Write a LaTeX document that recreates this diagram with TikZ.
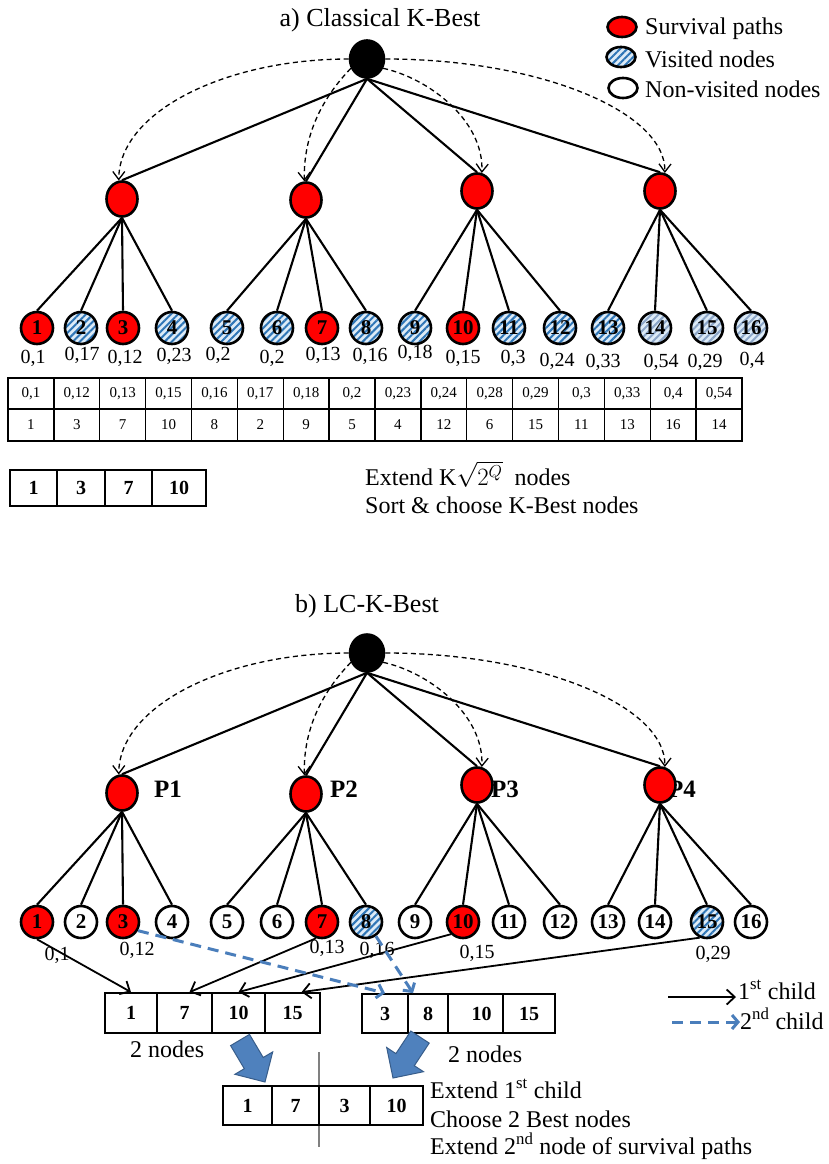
\documentclass[tikz,border=0pt]{standalone}
\usepackage{fontspec}
\setmainfont{Liberation Serif}
\usetikzlibrary{arrows.meta,patterns.meta,shapes.geometric,calc}
\definecolor{hatchblue}{HTML}{2E75B6}
\definecolor{hatchlight}{HTML}{8CA6C8}
\definecolor{hatchbg}{HTML}{DDEBF7}
\definecolor{arrowblue}{HTML}{4A7EBB}
\definecolor{blockblue}{HTML}{4F81BD}
\definecolor{blockedge}{HTML}{385D8A}
\newcommand\mktree[2]{%
\begin{scope}[shift={(0,#2)}]
 \node[rootnode] (#1r) at (367,59) {};
 \node[lvone] (#1p1) at (122,199) {};
 \node[lvone] (#1p2) at (306,200) {};
 \node[lvone] (#1p3) at (477,191) {};
 \node[lvone] (#1p4) at (660,191) {};
 \foreach \i in {1,...,4}{\draw[tedge] (#1r.south) -- (#1p\i.north);}
 \draw[darc] (#1r.west) .. controls (225,59) and (119,112) .. (#1p1.100);
 \draw[darc] (#1r.210) .. controls (332,88) and (303,125) .. (#1p2.95);
 \draw[darc] (#1r.-30) .. controls (428,78) and (484,120) .. (#1p3.75);
 \draw[darc] (#1r.east) .. controls (540,59) and (666,112) .. (#1p4.75);
\end{scope}}
\newcommand\mkleaves[3]{%
 \foreach \x/\s [count=\n] in {#3}{\node[style=\s] (#1l\n) at (\x,#2) {\n};}
 \foreach \n in {1,...,16}{\pgfmathtruncatemacro\pp{(\n+3)/4}\draw[tedge] (#1p\pp.south) -- (#1l\n.north);}
}
\begin{document}
\begin{tikzpicture}[x=1pt,y=-1pt,
  every node/.style={inner sep=0pt},
  f/.style={font=\fontsize{#1}{#1}\selectfont},
  fb/.style={font=\fontsize{#1}{#1}\selectfont\bfseries},
  rootnode/.style={ellipse,draw,line width=2.6pt,fill=black,minimum width=34pt,minimum height=37pt},
  lvone/.style={ellipse,draw,line width=2.6pt,fill=red,minimum width=31pt,minimum height=35pt},
  leaf/.style={circle,draw,line width=2.6pt,minimum size=32pt,fb=21},
  hatch/.style={preaction={fill=hatchbg},pattern={Lines[angle=45,distance=5pt,line width=2pt]},pattern color=hatchblue},
  survive/.style={leaf,fill=red},
  visited/.style={leaf,hatch},
  visitedl/.style={leaf,hatch,pattern color=hatchlight},
  nonvisited/.style={leaf,fill=white},
  legmark/.style={ellipse,draw,line width=2.6pt,minimum width=29pt,minimum height=20pt},
  tedge/.style={line width=2.1pt},
  darc/.style={line width=1.3pt,dash pattern=on 5pt off 3.5pt,-{Straight Barb[length=8pt,width=12pt]}},
  tcell/.style={draw,line width=1.3pt,minimum width=45.875pt,f=15},
  bcell/.style={draw,line width=1.8pt,fb=20},
  first/.style={line width=1.8pt,-{Straight Barb[length=8pt,width=15pt]}},
  second/.style={arrowblue,line width=3pt,dash pattern=on 11pt off 7pt,-{Straight Barb[length=6pt,width=14pt]}},
  val/.style={f=20},
  txt/.style={f=24,anchor=base west}
]
\useasboundingbox (0,0) rectangle (828,1164);
\fill[white] (0,0) rectangle (828,1164);

% ---------- titles ----------
\node[f=26,anchor=base] (ta) at (380,27) {a) Classical K-Best};
\node[f=26,anchor=base] (tb) at (367,612) {b) LC-K-Best};

% ---------- legend a ----------
\node[legmark,fill=red] (lgA) at (622,27) {};
\node[legmark,hatch] (lgB) at (621,57) {};
\node[legmark,fill=white] (lgC) at (623,88) {};
\node[txt] (lgAt) at (645,35) {Survival paths};
\node[txt] (lgBt) at (645,67) {Visited nodes};
\node[txt] (lgCt) at (645,97) {Non-visited nodes};

% ---------- tree a ----------
\mktree{a}{0}
\mkleaves{a}{328}{37/survive,81/visited,123/survive,172/visited,227/visited,277/visited,322/survive,366/visited,415/visited,463/survive,509/visited,560/visited,608/visited,655/visitedl,707/visitedl,751/visitedl}

\foreach \x/\y/\t [count=\k] in {33/358/{0,1},82/355/{0,17},125/358/{0,12},174/356/{0,23},218/355/{0,2},272/358/{0,2},323/355/{0,13},370/356/{0,16},415/353/{0,18},463/358/{0,15},513/358/{0,3},557/361/{0,24},603/362/{0,33},661/362/{0,54},705/362/{0,29},752/360/{0,4}}
  {\node[val] (av\k) at (\x,\y) {\t};}

% ---------- table ----------
\foreach \t [count=\k] in {{0,1},{0,12},{0,13},{0,15},{0,16},{0,17},{0,18},{0,2},{0,23},{0,24},{0,28},{0,29},{0,3},{0,33},{0,4},{0,54}}
  {\node[tcell,minimum height=31pt] (tr\k) at ({8+45.875*(\k-0.5)},393.5) {\t};}
\foreach \t [count=\k] in {1,3,7,10,8,2,9,5,4,12,6,15,11,13,16,14}
  {\node[tcell,minimum height=32pt] (ts\k) at ({8+45.875*(\k-0.5)},425) {\t};}

% ---------- K-best box ----------
\node[bcell,minimum width=47pt,minimum height=36pt] (k1) at (33.5,488) {1};
\node[bcell,minimum width=48pt,minimum height=36pt] (k2) at (81,488) {3};
\node[bcell,minimum width=47pt,minimum height=36pt] (k3) at (128.5,488) {7};
\node[bcell,minimum width=54pt,minimum height=36pt] (k4) at (179,488) {10};
\node[txt] (ext) at (365,485) {Extend K$\sqrt{2^{Q}}$\ \ nodes};
\node[txt] (srt) at (365,513) {Sort \& choose K-Best nodes};

% ---------- tree b ----------
\node[fb=25,anchor=base west] (P1) at (154,797) {P1};
\node[fb=25,anchor=base west] (P2) at (330,797) {P2};
\node[fb=25,anchor=base west] (P3) at (491,797) {P3};
\node[fb=25,anchor=base west] (P4) at (668,797) {P4};
\mktree{b}{594}
\mkleaves{b}{922}{37/survive,81/nonvisited,123/survive,172/nonvisited,227/nonvisited,277/nonvisited,322/survive,366/visited,415/nonvisited,463/survive,509/nonvisited,560/nonvisited,608/nonvisited,655/nonvisited,707/visited,751/nonvisited}

\node[val] (bv1) at (57,955) {0,1};
\node[val] (bv3) at (137,950) {0,12};
\node[val] (bv7) at (327,948) {0,13};
\node[val] (bv8) at (377,950) {0,16};
\node[val] (bv10) at (477,953) {0,15};
\node[val] (bv15) at (713,954) {0,29};

% ---------- boxes b ----------
\node[bcell,minimum width=52pt,minimum height=40pt] (b1c1) at (131,1013) {1};
\node[bcell,minimum width=55pt,minimum height=40pt] (b1c2) at (184.5,1013) {7};
\node[bcell,minimum width=53pt,minimum height=40pt] (b1c3) at (238.5,1013) {10};
\node[bcell,minimum width=55pt,minimum height=40pt] (b1c4) at (292.5,1013) {15};

\node[bcell,minimum width=46pt,minimum height=39pt] (b2c1) at (385,1013.5) {3};
\node[bcell,minimum width=40pt,minimum height=39pt] (b2c2) at (428,1013.5) {8};
\node[bcell,minimum width=55pt,minimum height=39pt] (b2c3) at (475.5,1013.5) {\hspace*{12pt}10};
\node[bcell,minimum width=52pt,minimum height=39pt] (b2c4) at (529,1013.5) {15};

% arrows 1st / 2nd child
\draw[first] (bl1.south) -- (b1c1.north);
\draw[first] (bl7.250) -- ([xshift=5pt]b1c2.north);
\draw[first] (bl10.225) -- (b1c3.north);
\draw[first] (bl15.245) -- ([xshift=9pt]b1c4.north);
\draw[second] (bl3.-30) -- (b2c1.north);
\draw[second] (bl8.-55) -- ([xshift=-15pt]b2c2.north);

% legend b
\coordinate (lg1s) at (668,997);
\coordinate (lg1e) at (736,997);
\draw[first] (lg1s) -- (lg1e);
\node[txt] (lg1t) at (738,999) {1\textsuperscript{st} child};
\coordinate (lg2s) at (672,1022);
\coordinate (lg2e) at (740,1022);
\draw[second] (lg2s) -- (lg2e);
\node[txt] (lg2t) at (740,1029) {2\textsuperscript{nd} child};

\node[f=24,anchor=base west] (n2a) at (130,1057) {2 nodes};
\node[f=24,anchor=base west] (n2b) at (448,1062) {2 nodes};

% big block arrows
\filldraw[fill=blockblue,draw=blockedge,line width=1pt]
  (230.6,1045.6) -- (244.3,1068.7) -- (234.9,1074.3) -- (265,1082) -- (272.7,1051.9) -- (263.2,1057.5) -- (249.5,1034.4) -- cycle;
\filldraw[fill=blockblue,draw=blockedge,line width=1pt]
  (410.8,1031) -- (395.9,1053.6) -- (386.7,1047.5) -- (393,1078) -- (423.5,1071.7) -- (414.3,1065.7) -- (429.2,1043.1) -- cycle;

% gray divider
\draw[gray,line width=1.5pt] (319,1052) -- (319,1147);

% result box
\node[bcell,minimum width=49pt,minimum height=39pt] (r1) at (247.5,1105.5) {1};
\node[bcell,minimum width=47pt,minimum height=39pt] (r2) at (295.5,1105.5) {7};
\node[bcell,minimum width=51pt,minimum height=39pt] (r3) at (344.5,1105.5) {3};
\node[bcell,minimum width=53pt,minimum height=39pt] (r4) at (396.5,1105.5) {10};

\node[txt] (e1) at (430,1098) {Extend 1\textsuperscript{st} child};
\node[txt] (e2) at (430,1127) {Choose 2 Best nodes};
\node[txt] (e3) at (430,1154) {Extend 2\textsuperscript{nd} node of survival paths};
\end{tikzpicture}
\end{document}
